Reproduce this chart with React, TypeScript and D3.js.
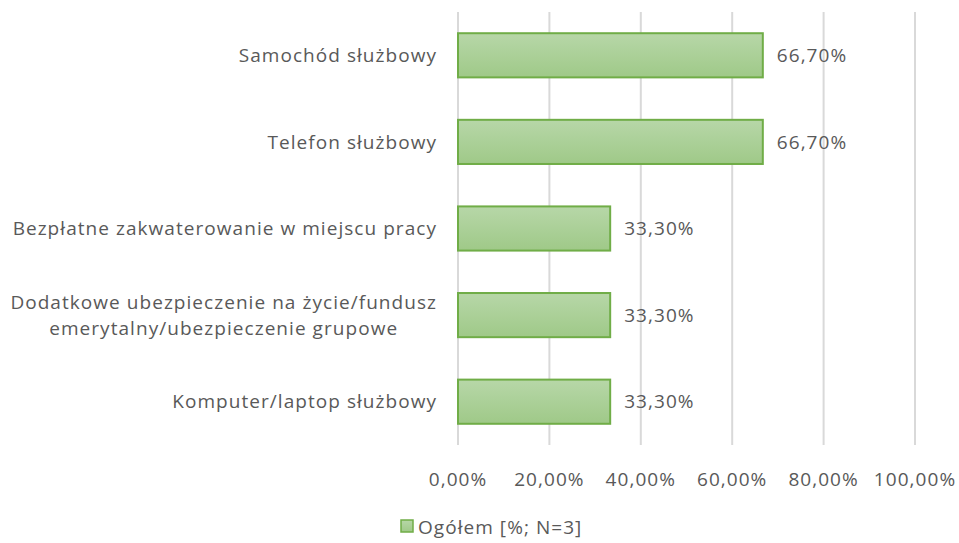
import { useEffect, useRef } from 'react';
import * as d3 from 'd3';

// chart data
const categories = [
  'Samochód służbowy',
  'Telefon służbowy',
  'Bezpłatne zakwaterowanie w miejscu pracy',
  'Dodatkowe ubezpieczenie na życie/fundusz\nemerytalny/ubezpieczenie grupowe',
  'Komputer/laptop służbowy',
];
const values = [66.7, 66.7, 33.3, 33.3, 33.3];
const xTicks = [0, 20, 40, 60, 80, 100];
const seriesName = 'Ogółem [%; N=3]';

const W = 959;
const H = 543;
const FONT = '"Open Sans", sans-serif';
const TEXT = '#595959';
const FS = '19px';
const LS = '1.05px';

const fmt = (v: number) => v.toFixed(2).replace('.', ',') + '%';

export default function App() {
  const svgRef = useRef<SVGSVGElement>(null);

  useEffect(() => {
    if (!svgRef.current) return;
    const svg = d3.select(svgRef.current);
    svg.selectAll('*').remove();

    const left = 458;
    const right = 915;
    const top = 12;
    const bottom = 445;

    const x = d3.scaleLinear().domain([0, 100]).range([left, right]);
    const y = d3.scaleBand<string>().domain(categories).range([top, bottom]).paddingInner(0.49).paddingOuter(0.245);

    const defs = svg.append('defs');
    const grad = defs
      .append('linearGradient')
      .attr('id', 'barGrad')
      .attr('x1', 0)
      .attr('y1', 0)
      .attr('x2', 0)
      .attr('y2', 1);
    grad.append('stop').attr('offset', '0%').attr('stop-color', '#b7d7a8');
    grad.append('stop').attr('offset', '100%').attr('stop-color', '#9fc988');

    const styleText = (s: d3.Selection<any, any, any, any>) =>
      s
        .style('font-family', FONT)
        .style('font-size', FS)
        .style('letter-spacing', LS)
        .style('fill', TEXT);

    // gridlines
    svg
      .append('g')
      .selectAll('line')
      .data(xTicks)
      .enter()
      .append('line')
      .attr('x1', (d) => x(d))
      .attr('x2', (d) => x(d))
      .attr('y1', top)
      .attr('y2', bottom)
      .style('stroke', '#d9d9d9')
      .style('stroke-width', '2px');

    // tick labels
    svg
      .append('g')
      .selectAll('text')
      .data(xTicks)
      .enter()
      .append('text')
      .attr('x', (d) => x(d))
      .attr('y', 479)
      .attr('dy', '0.35em')
      .attr('text-anchor', 'middle')
      .call(styleText)
      .text((d) => fmt(d));

    // bars
    svg
      .append('g')
      .selectAll('rect')
      .data(values)
      .enter()
      .append('rect')
      .attr('x', x(0))
      .attr('y', (_d, i) => y(categories[i])!)
      .attr('width', (d) => x(d) - x(0))
      .attr('height', y.bandwidth())
      .style('fill', 'url(#barGrad)')
      .style('stroke', '#70ad47')
      .style('stroke-width', '2px');

    // value labels
    svg
      .append('g')
      .selectAll('text')
      .data(values)
      .enter()
      .append('text')
      .attr('x', (d) => x(d) + 14)
      .attr('y', (_d, i) => y(categories[i])! + y.bandwidth() / 2)
      .attr('dy', '0.35em')
      .call(styleText)
      .text((d) => fmt(d));

    // category labels (multi-line blocks centred, block right edge at axis)
    const cat = svg
      .append('g')
      .selectAll('text')
      .data(categories)
      .enter()
      .append('text')
      .attr('text-anchor', 'middle')
      .call(styleText);
    cat.each(function (d) {
      const lines = d.split('\n');
      const t = d3.select(this);
      const cy = y(d)! + y.bandwidth() / 2;
      const lh = 26;
      lines.forEach((ln, k) => {
        t.append('tspan')
          .attr('x', 0)
          .attr('y', cy + (k - (lines.length - 1) / 2) * lh)
          .attr('dy', '0.35em')
          .text(ln);
      });
      const w = (t.node() as SVGTextElement).getBBox().width;
      t.selectAll('tspan').attr('x', 437 - w / 2);
    });

    // legend
    const lg = svg.append('g');
    lg.append('rect')
      .attr('x', 401)
      .attr('y', 520)
      .attr('width', 12)
      .attr('height', 12)
      .style('fill', 'url(#barGrad)')
      .style('stroke', '#70ad47')
      .style('stroke-width', '1.5px');
    lg.append('text')
      .attr('x', 418)
      .attr('y', 527)
      .attr('dy', '0.35em')
      .call(styleText)
      .text(seriesName);
  }, []);

  return (
    <div style={{ position: 'absolute', left: 0, top: 0, background: '#fff' }}>
      <svg ref={svgRef} width={W} height={H} />
    </div>
  );
}
